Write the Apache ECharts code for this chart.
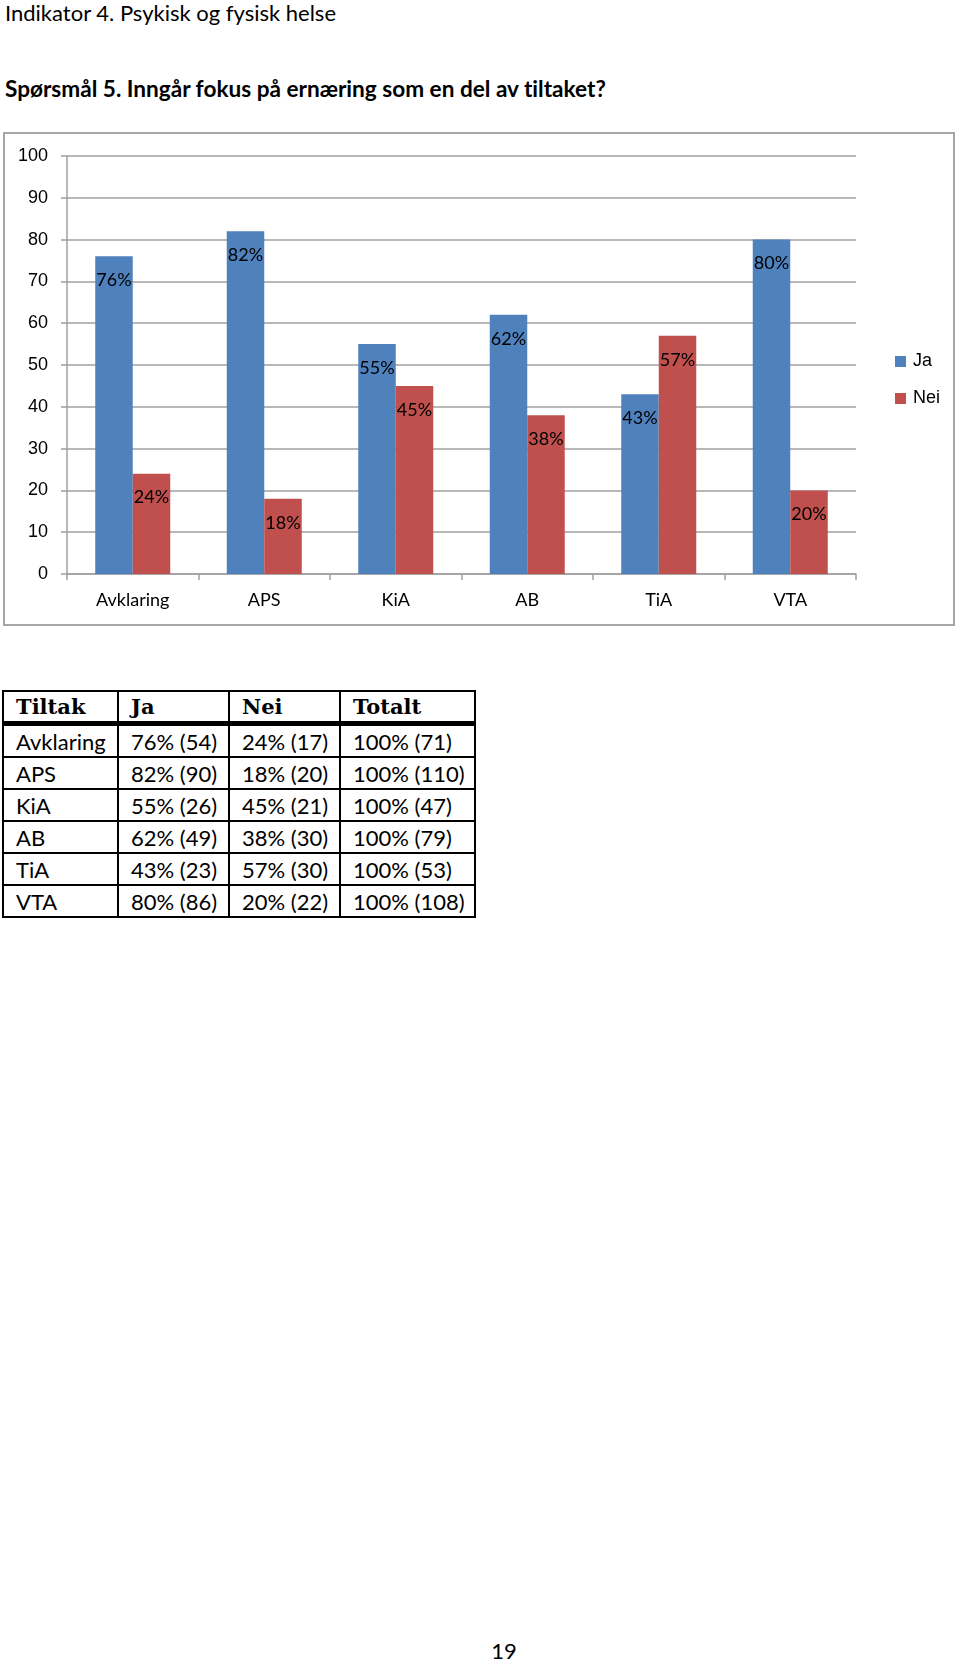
<!DOCTYPE html>
<html><head><meta charset="utf-8">
<script src="https://cdn.jsdelivr.net/npm/echarts/dist/echarts.min.js"></script>
<style>
body{margin:0;background:#fff;}
#page{position:relative;width:960px;height:1662px;overflow:hidden;background:#fff;color:#000;font-variant-ligatures:none;}
.t1{position:absolute;left:5px;top:0px;font-family:Lato;font-size:22px;line-height:26px;white-space:nowrap;}
.t2{position:absolute;left:5px;top:76px;font-family:Lato;font-weight:bold;font-size:22.6px;line-height:26px;white-space:nowrap;}
#frame{position:absolute;left:3px;top:132px;width:952px;height:494px;border:2px solid #a6a6a6;box-sizing:border-box;pointer-events:none;}
#chart{position:absolute;left:3px;top:132px;width:952px;height:494px;}
table{position:absolute;left:2px;top:690px;border-collapse:collapse;table-layout:fixed;}
td,th{border:2px solid #000;padding:0 0 0 12px;text-align:left;vertical-align:middle;white-space:nowrap;overflow:hidden;}
th{font-family:"DejaVu Serif";font-weight:bold;font-size:21px;height:29px;border-bottom:5px solid #000;}
td{font-family:Lato;font-size:22px;height:30px;}
.pn{position:absolute;left:0;width:1008px;text-align:center;top:1639px;font-family:Lato;font-size:22px;line-height:24px;}
</style></head>
<body><div id="page">
<div class="t1">Indikator 4. Psykisk og fysisk helse</div>
<div class="t2">Spørsmål 5. Inngår fokus på ernæring som en del av tiltaket?</div>
<div id="chart"></div>
<div id="frame"></div>
<table id="tbl">
<colgroup><col style="width:115px"><col style="width:111px"><col style="width:111px"><col style="width:135px"></colgroup>
<thead><tr id="hdr"></tr></thead><tbody id="tb"></tbody></table>
<div class="pn">19</div>
</div>
<script>
const categories = ['Avklaring', 'APS', 'KiA', 'AB', 'TiA', 'VTA'];
const seriesNames = ['Ja', 'Nei'];
const jaPct = [76, 82, 55, 62, 43, 80];
const neiPct = [24, 18, 45, 38, 57, 20];
const jaCount = [54, 90, 26, 49, 23, 86];
const neiCount = [17, 20, 21, 30, 30, 22];
const totalCount = [71, 110, 47, 79, 53, 108];
const tableHeaders = ['Tiltak', 'Ja', 'Nei', 'Totalt'];

// table
const hdr = document.getElementById('hdr');
tableHeaders.forEach(h => { const th = document.createElement('th'); th.textContent = h; hdr.appendChild(th); });
const tb = document.getElementById('tb');
categories.forEach((c, i) => {
  const tr = document.createElement('tr');
  [c, jaPct[i] + '% (' + jaCount[i] + ')', neiPct[i] + '% (' + neiCount[i] + ')', '100% (' + totalCount[i] + ')'].forEach(v => {
    const td = document.createElement('td'); td.textContent = v; tr.appendChild(td);
  });
  tb.appendChild(tr);
});

const gray = '#a0a0a0';
const labelCfg = {show: true, position: 'insideTop', distance: 15, formatter: '{c}%', fontSize: 18, color: '#000', fontFamily: 'Lato'};
const chart = echarts.init(document.getElementById('chart'), null, {renderer: 'canvas'});
chart.setOption({
  animation: false,
  textStyle: {fontFamily: 'Lato'},
  grid: {left: 64, right: 99, top: 24, bottom: 52},
  legend: {
    orient: 'vertical', left: 887, top: 214.5, itemWidth: 11, itemHeight: 11, itemGap: 17, icon: 'rect',
    textStyle: {fontFamily: 'Liberation Sans', fontSize: 18, color: '#000', padding: [0, 0, 0, 2], lineHeight: 20},
    data: seriesNames
  },
  xAxis: {
    type: 'category', data: categories,
    axisLine: {lineStyle: {color: gray, width: 1.5}},
    axisTick: {show: true, length: 6, lineStyle: {color: gray, width: 1.5}},
    axisLabel: {margin: 17, fontSize: 18, color: '#000', fontFamily: 'Lato'}
  },
  yAxis: {
    type: 'value', min: 0, max: 100, interval: 10,
    axisLine: {show: true, lineStyle: {color: gray, width: 1.5}},
    axisTick: {show: true, length: 6, lineStyle: {color: gray, width: 1.5}},
    axisLabel: {margin: 19, fontSize: 18, color: '#000', fontFamily: 'Liberation Sans'},
    splitLine: {lineStyle: {color: gray, width: 1.5}}
  },
  series: [
    {name: seriesNames[0], type: 'bar', data: jaPct, barWidth: 37.5, barGap: '0%', itemStyle: {color: '#4F81BD'}, label: labelCfg},
    {name: seriesNames[1], type: 'bar', data: neiPct, barWidth: 37.5, barGap: '0%', itemStyle: {color: '#C0504D'}, label: labelCfg}
  ]
});
</script>
</body></html>
